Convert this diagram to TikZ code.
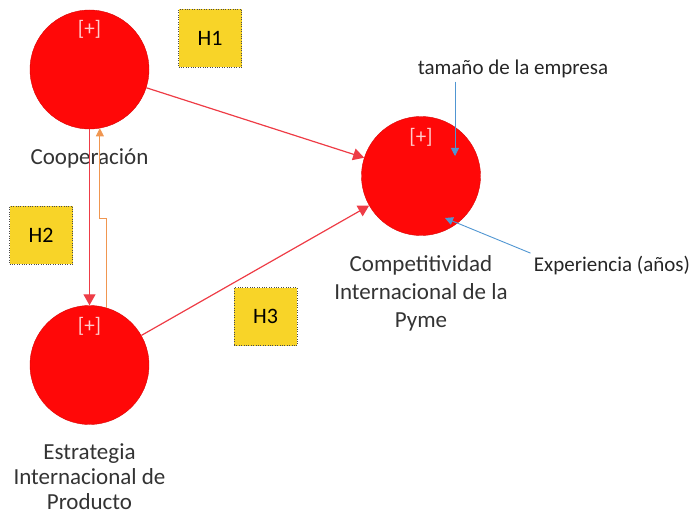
\documentclass[tikz,border=0pt]{standalone}
\usepackage{fontspec}
\setmainfont{Carlito}
\usetikzlibrary{arrows.meta, positioning, calc}
\definecolor{latentred}{RGB}{255,8,8}
\definecolor{pathred}{RGB}{238,60,70}
\definecolor{fbkorange}{RGB}{240,150,80}
\definecolor{ctrlblue}{RGB}{80,150,210}
\definecolor{hypyellow}{RGB}{248,212,40}

\begin{document}
\begin{tikzpicture}[
  x=1pt, y=-1pt,
  latent/.style={circle, fill=latentred, draw=latentred!85!black, line width=0.4pt,
    minimum size=119pt, inner sep=0pt},
  plus/.style={text=red!20!white, font=\fontsize{21}{24}\selectfont},
  caption/.style={align=center, text=black!80, font=\fontsize{23}{#1}\selectfont},
  caption/.default=27,
  hyp/.style={draw=black!70, dotted, fill=hypyellow, minimum width=63pt,
    minimum height=58pt, font=\fontsize{22}{26}\selectfont},
  path/.style={draw=pathred, line width=1.2pt, -{Triangle[length=11pt,width=12pt]}},
  fbk/.style={draw=fbkorange, line width=0.8pt, -{Triangle[length=8pt,width=8pt]}},
  ctrl/.style={draw=ctrlblue, line width=0.9pt, -{Triangle[length=8pt,width=8pt]}},
  ctrltext/.style={text=black!85, font=\fontsize{21}{25}\selectfont},
]
  \useasboundingbox (0,0) rectangle (692,521);

  % latent variables
  \node[latent] (coop) at (89.5,69.5) {};
  \node[latent] (estr) at (89.5,365) {};
  \node[latent] (comp) at (421,176) {};
  \node[plus] (coopplus) at (89.5,29) {[+]};
  \node[plus] (estrplus) at (89.5,326) {[+]};
  \node[plus] (compplus) at (421,137) {[+]};

  \node[caption] (coopcap) at (89.5,158) {Cooperación};
  \node[caption=25] (estrcap) at (89.5,477) {Estrategia\\Internacional de\\Producto};
  \node[caption=28] (compcap) at (421,293) {Competitividad\\Internacional de la\\Pyme};

  % hypotheses
  \node[hyp] (h1) at (210,38) {H1};
  \node[hyp] (h2) at (41,235) {H2};
  \node[hyp] (h3) at (265.5,316.5) {H3};

  % controls
  \node[ctrltext] (tam) at (513,69) {tamaño de la empresa};
  \node[ctrltext] (exp) at (612,266) {Experiencia (años)};
  \coordinate (tamend) at (455,156);
  \coordinate (expend) at (445,218);

  \draw[path] (coop) -- (comp);
  \draw[path] (estr) -- (comp);
  \draw[path] (coop) -- (estr);
  \draw[fbk] (estr.74) -- (estr.74 |- 0,218) -| (coop.-80);
  \draw[ctrl] (tam.south -| tamend) -- (tamend);
  \draw[ctrl] (exp.north west) -- (expend);
\end{tikzpicture}
\end{document}
